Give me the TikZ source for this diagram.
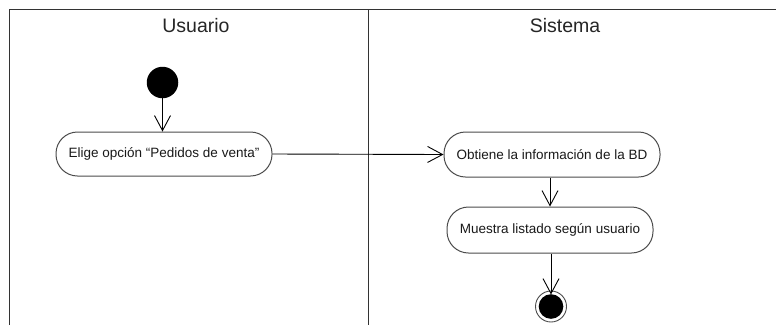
\documentclass[tikz,border=0pt]{standalone}
\usepackage{fontspec}
\setmainfont{Liberation Sans}
\usetikzlibrary{arrows.meta}
\begin{document}
\begin{tikzpicture}[x=1pt,y=-1pt,
  lane/.style={draw=black!80, line width=1pt},
  title/.style={font=\fontsize{19.5}{22}\selectfont, text=black!85},
  action/.style={draw=black!70, line width=1pt, rounded corners=21.5pt, inner sep=0pt,
    font=\fontsize{13.5}{16}\selectfont, text=black!90},
  flow/.style={draw=black, line width=0.9pt, -{Straight Barb[length=15pt,width=16pt,line width=0.9pt]}},
  startnode/.style={circle, fill=black, inner sep=0pt, minimum size=31.5pt},
  endnode/.style={circle, draw=black!70, line width=0.9pt, fill=white, inner sep=0pt, minimum size=31pt,
    path picture={\fill[black] (path picture bounding box.center) circle (12.3pt);}}
]
\useasboundingbox (0,0) rectangle (776,325);
\fill[white] (0,0) rectangle (776,325);
% swimlanes
\draw[lane] (9,325) -- (9,9) -- (776,9);
\draw[lane] (368,9) -- (368,325);
\node[title] (tu) at (196,26) {Usuario};
\node[title] (ts) at (565,26) {Sistema};
% nodes
\node[startnode] (start) at (162.5,82.5) {};
\node[action, minimum width=216pt, minimum height=44pt] (a1) at (164,154) {Elige opción “Pedidos de venta”};
\node[action, minimum width=216pt, minimum height=45pt] (a2) at (552,154.5) {Obtiene la información de la BD};
\node[action, minimum width=206pt, minimum height=46pt] (a3) at (550,230) {Muestra listado según usuario};
\node[endnode] (end) at (551,306.5) {};
% flows
\draw[flow] (start.south) -- (start.south |- a1.north);
\draw[flow] (a1.east) -- (a2.west);
\draw[flow] (a2.south -| a3.north) -- (a3.north);
\draw[flow] (a3.south -| end.north) -- ([yshift=-4pt]end.north);
\end{tikzpicture}
\end{document}
